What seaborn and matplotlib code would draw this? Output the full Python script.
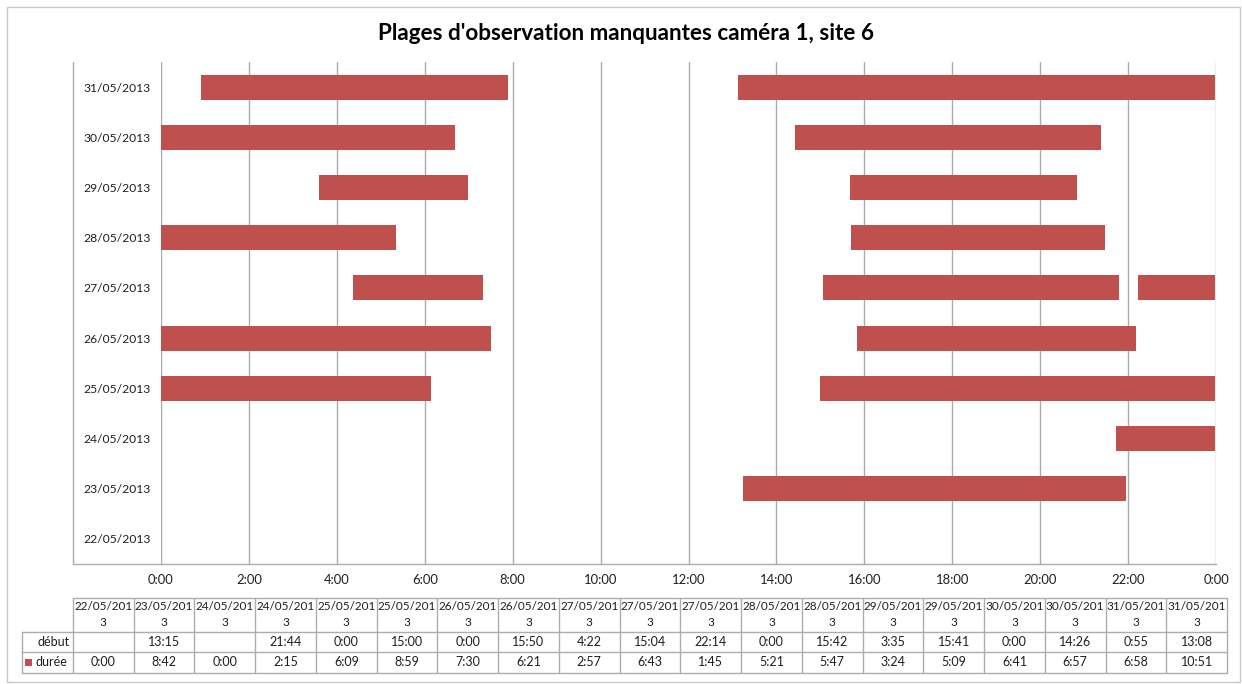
import matplotlib
matplotlib.use("Agg")
import matplotlib.pyplot as plt
from matplotlib.lines import Line2D
from matplotlib.patches import Rectangle
import seaborn as sns
import pandas as pd

title = "Plages d'observation manquantes caméra 1, site 6"
dates = ["22/05/2013", "23/05/2013", "24/05/2013", "24/05/2013", "25/05/2013",
         "25/05/2013", "26/05/2013", "26/05/2013", "27/05/2013", "27/05/2013",
         "27/05/2013", "28/05/2013", "28/05/2013", "29/05/2013", "29/05/2013",
         "30/05/2013", "30/05/2013", "31/05/2013", "31/05/2013"]
debut = ["", "13:15", "", "21:44", "0:00", "15:00", "0:00", "15:50", "4:22",
         "15:04", "22:14", "0:00", "15:42", "3:35", "15:41", "0:00", "14:26",
         "0:55", "13:08"]
duree = ["0:00", "8:42", "0:00", "2:15", "6:09", "8:59", "7:30", "6:21", "2:57",
         "6:43", "1:45", "5:21", "5:47", "3:24", "5:09", "6:41", "6:57", "6:58",
         "10:51"]
day_labels = ["22/05/2013", "23/05/2013", "24/05/2013", "25/05/2013", "26/05/2013",
              "27/05/2013", "28/05/2013", "29/05/2013", "30/05/2013", "31/05/2013"]
hour_ticks = [0, 2, 4, 6, 8, 10, 12, 14, 16, 18, 20, 22, 24]
hour_labels = ["0:00", "2:00", "4:00", "6:00", "8:00", "10:00", "12:00", "14:00",
               "16:00", "18:00", "20:00", "22:00", "0:00"]
series_names = ["début", "durée"]


def to_hours(s):
    if not s:
        return 0.0
    h, m = s.split(":")
    return int(h) + int(m) / 60.0


df = pd.DataFrame({"date": dates, "debut": debut, "duree": duree})
df["start"] = df["debut"].map(to_hours)
df["dur"] = df["duree"].map(to_hours)
df["row"] = df["date"].map({d: i for i, d in enumerate(day_labels)})

# ---- style ----
sns.set_theme(style="white")
plt.rcParams["font.family"] = ["Lato", "DejaVu Sans"]

W, H = 1242, 684
fig = plt.figure(figsize=(W / 100, H / 100), dpi=100)
fig.patch.set_facecolor("white")


def fx(px):
    return px / W


def fy(py):
    return 1 - py / H


GRID = "#ADADAD"
BAR = "#C0504D"
TXT = "#1F1F1F"

L, R, T, B = 161, 1216, 62, 564
ax = fig.add_axes([fx(L), fy(B), fx(R) - fx(L), fy(T) - fy(B)])
ax.set_facecolor("white")

ax.barh(df["row"], df["dur"], left=df["start"], height=0.5, color=BAR,
        edgecolor="none", zorder=3)

ax.set_xlim(0, 24)
ax.set_ylim(-0.5, len(day_labels) - 0.5)
ax.set_xticks(hour_ticks)
ax.set_xticklabels(hour_labels, fontsize=9.4, color=TXT)
ax.set_yticks(range(len(day_labels)))
ax.set_yticklabels(day_labels, fontsize=8.7, color=TXT, ha="center")
ax.tick_params(axis="y", length=0, pad=31.5)
ax.tick_params(axis="x", length=0, pad=7.5)
ax.xaxis.grid(True, color=GRID, linewidth=1, zorder=0)
ax.yaxis.grid(False)
for s in ["top", "right", "left"]:
    ax.spines[s].set_visible(False)
ax.spines["bottom"].set_color(GRID)
ax.spines["bottom"].set_linewidth(1)
ax.set_xlabel("")
ax.set_ylabel("")


def hline(x0, x1, y, color=GRID, lw=1):
    fig.add_artist(Line2D([fx(x0), fx(x1)], [fy(y), fy(y)], color=color, lw=lw))


def vline(x, y0, y1, color=GRID, lw=1):
    fig.add_artist(Line2D([fx(x), fx(x)], [fy(y0), fy(y1)], color=color, lw=lw))


# category label area border and axis extension
vline(73, T, B)
hline(73, L, B)

# chart border
fig.add_artist(Rectangle((fx(7), fy(682)), fx(1240) - fx(7), fy(7) - fy(682),
                         fill=False, edgecolor="#C8C8C8", lw=1))

# title
fig.text(fx(626), fy(33), title, ha="center", va="center", fontsize=16.2,
         fontweight="bold", color="black")

# ---- data table ----
t0, t1 = 73, 1227
n = len(dates)
cw = (t1 - t0) / n
y_top, y_h, y_d, y_bot = 598, 632, 652, 673
hline(t0, t1, y_top)
hline(22, t1, y_h)
hline(22, t1, y_d)
hline(22, t1, y_bot)
vline(22, y_h, y_bot)
for k in range(n + 1):
    vline(t0 + k * cw, y_top, y_bot)

fs = 9.0
fs_head = 8.5
for k in range(n):
    cx = t0 + (k + 0.5) * cw
    lab = dates[k]
    fig.text(fx(cx), fy(606), lab[:-1], ha="center", va="center", fontsize=fs_head, color=TXT)
    fig.text(fx(cx), fy(622), lab[-1], ha="center", va="center", fontsize=fs_head, color=TXT)
    if debut[k]:
        fig.text(fx(cx), fy(642), debut[k], ha="center", va="center", fontsize=fs, color=TXT)
    fig.text(fx(cx), fy(662.5), duree[k], ha="center", va="center", fontsize=fs, color=TXT)

fig.text(fx(70), fy(642), series_names[0], ha="right", va="center", fontsize=fs, color=TXT)
fig.add_artist(Rectangle((fx(25), fy(666)), fx(32) - fx(25), fy(659) - fy(666),
                         facecolor=BAR, edgecolor="none"))
fig.text(fx(35), fy(662.5), series_names[1], ha="left", va="center", fontsize=fs, color=TXT)

fig.savefig("out.png", dpi=100, facecolor="white")
